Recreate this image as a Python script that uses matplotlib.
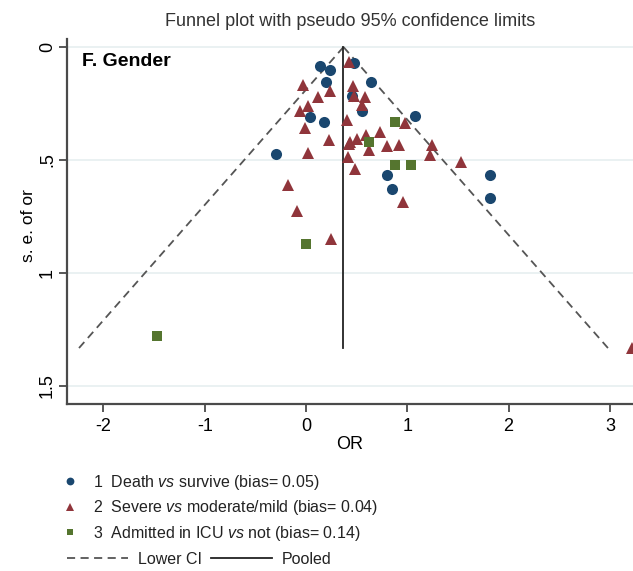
import numpy as np
import matplotlib.pyplot as plt
from matplotlib.lines import Line2D

# ---------------------------------------------------------------
# data (OR on x, s.e. of or on y)
# ---------------------------------------------------------------
death_or = [0.14, 0.24, 0.20, 0.47, 0.64, 0.45, 0.55, 0.04, 0.18, 1.08,
            -0.30, 0.80, 0.85, 1.82, 1.82]
death_se = [0.084, 0.102, 0.154, 0.069, 0.155, 0.217, 0.285, 0.311, 0.331, 0.305,
            0.473, 0.566, 0.628, 0.566, 0.668]

severe_or = [0.42, -0.03, 0.24, 0.46, 0.47, 0.12, 0.58, 0.55, -0.06, 0.02,
             0.40, -0.01, 0.98, 0.23, 0.43, 0.50, 0.59, 0.73, 0.42, 0.80,
             0.92, 1.24, 1.22, 1.53, 0.62, 0.02, 0.41, 0.48, -0.18, -0.09,
             0.96, 0.25, 3.22]
severe_se = [0.065, 0.168, 0.195, 0.173, 0.219, 0.221, 0.220, 0.257, 0.283, 0.263,
             0.325, 0.360, 0.336, 0.412, 0.419, 0.407, 0.389, 0.375, 0.429, 0.438,
             0.434, 0.434, 0.478, 0.511, 0.456, 0.470, 0.485, 0.540, 0.611, 0.724,
             0.686, 0.850, 1.332]

icu_or = [0.88, 0.62, 0.88, 1.04, 0.00, -1.47]
icu_se = [0.332, 0.420, 0.520, 0.520, 0.872, 1.279]

labels = ["1  Death $\\it{vs}$ survive (bias= 0.05)",
          "2  Severe $\\it{vs}$ moderate/mild (bias= 0.04)",
          "3  Admitted in ICU $\\it{vs}$ not (bias= 0.14)"]

pooled = 0.37
max_se = 1.332

plt.rcParams['font.family'] = ['Liberation Sans', 'DejaVu Sans']
plt.rcParams['mathtext.fontset'] = 'custom'
plt.rcParams['mathtext.rm'] = 'Liberation Sans'
plt.rcParams['mathtext.it'] = 'Liberation Sans:italic'

NAVY, MAROON, GREEN = "#1a476f", "#90353b", "#55752f"
AXC = "#4a4a4a"
DASH = (0, (4.5, 3))

W, H = 633, 571
fig = plt.figure(figsize=(W / 100, H / 100), dpi=100)
ax = fig.add_axes([67 / W, 1 - 404 / H, 1 - 67 / W, (404 - 39) / H])

# gridlines
for g in [0, 0.5, 1, 1.5]:
    ax.axhline(g, color="#e6eff0", lw=1.2, zorder=0)

# funnel limits + pooled line
se = np.array([0, max_se])
ax.plot(pooled - 1.96 * se, se, ls=DASH, color="#555555", lw=1.3, zorder=1)
ax.plot(pooled + 1.96 * se, se, ls=DASH, color="#555555", lw=1.3, zorder=1)
ax.plot([pooled, pooled], se, color="#222222", lw=1.3, zorder=1)

h1, = ax.plot(death_or, death_se, "o", color=NAVY, ms=8, mew=0, zorder=3)
h2, = ax.plot(severe_or, severe_se, "^", color=MAROON, ms=8.5, mew=0, zorder=3)
h3, = ax.plot(icu_or, icu_se, "s", color=GREEN, ms=7, mew=0, zorder=3)

ax.set_xlim((67 - 306) / 101.3, (633 - 306) / 101.3)
ax.set_ylim((404 - 47) / 226, (39 - 47) / 226)

ax.set_xticks([-2, -1, 0, 1, 2, 3])
ax.set_xticklabels(["-2", "-1", "0", "1", "2", "3"], fontsize=13)
ax.set_yticks([0, 0.5, 1, 1.5])
ax.set_yticklabels(["0", ".5", "1", "1.5"], fontsize=13, rotation=90, va="center")

for s in ["top", "right"]:
    ax.spines[s].set_visible(False)
for s in ["left", "bottom"]:
    ax.spines[s].set_color(AXC)
    ax.spines[s].set_linewidth(1.6)
ax.tick_params(direction="out", length=6, width=1.3, color=AXC, pad=4)
ax.tick_params(axis="y", pad=2)

ax.set_xlabel("OR", fontsize=13, labelpad=1)
ax.set_ylabel("s. e. of or", fontsize=12.5)
ax.yaxis.set_label_coords(-0.055, 0.49)
ax.set_title("Funnel plot with pseudo 95% confidence limits", fontsize=13, pad=9,
             color="#333333")

fig.text(82 / W, 1 - 61 / H, "F. Gender", fontsize=14, fontweight="bold",
         va="center", ha="left")

# legend: markers
leg1 = fig.legend([h1, h2, h3], labels, loc="upper left",
                  bbox_to_anchor=(54 / W, 1 - 465 / H), frameon=False,
                  fontsize=11.5, markerscale=0.7, handlelength=1.0,
                  handletextpad=0.93, labelspacing=0.4, borderpad=0,
                  labelcolor="#222222")
# legend: lines
l_ci = Line2D([], [], ls=DASH, color="#555555", lw=1.3)
l_po = Line2D([], [], color="#222222", lw=1.3)
leg2 = fig.legend([l_ci, l_po], ["Lower CI", "Pooled"], loc="upper left",
                  bbox_to_anchor=(59 / W, 1 - 544 / H), frameon=False,
                  fontsize=11.5, ncol=2, handlelength=3.8, handletextpad=0.62,
                  columnspacing=0.6, borderpad=0, labelcolor="#222222")

fig.savefig("out.png", dpi=100)
